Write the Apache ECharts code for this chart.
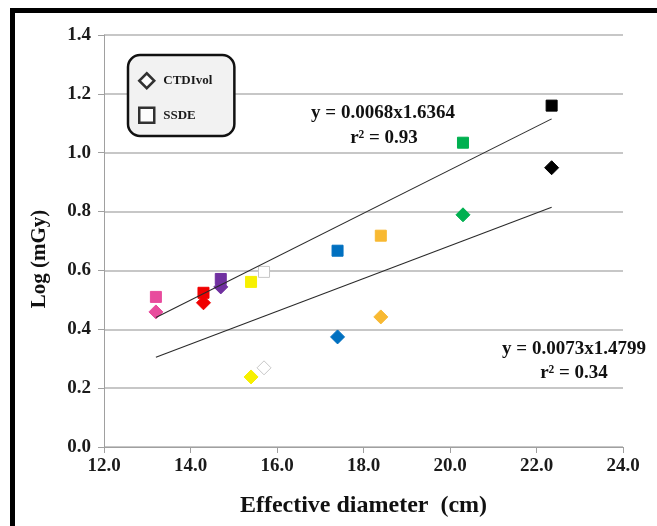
<!DOCTYPE html>
<html>
<head>
<meta charset="utf-8">
<script src="https://cdn.jsdelivr.net/npm/echarts@6/dist/echarts.min.js"></script>
<style>
  html, body { margin: 0; padding: 0; background: #ffffff; }
  #chart { width: 657px; height: 526px; }
</style>
</head>
<body>
<div id="chart"></div>
<script>
// Effective diameter (cm) of each phantom/patient group
const diameters = [13.2, 14.3, 14.7, 15.4, 15.7, 17.4, 18.4, 20.3, 22.35];
// Log dose values (mGy)
const ctdiVol = [0.459, 0.490, 0.544, 0.238, 0.269, 0.374, 0.442, 0.789, 0.949];
const ssde    = [0.510, 0.524, 0.571, 0.561, 0.595, 0.667, 0.718, 1.034, 1.160];
// Marker colour per group
const groupColors = ['#e84c9d', '#f00000', '#7030a0', '#f7f000', '#ffffff',
                     '#0070c0', '#f8b932', '#00b050', '#000000'];
// Power trendlines, end points over the fitted range
const fitX = [13.2, 22.35];
const fitSSDE = [0.44, 1.115];
const fitCTDI = [0.305, 0.815];
// Axis ticks
const xTicks = { min: 12, max: 24, step: 2 };
const yTicks = { min: 0, max: 1.4, step: 0.2 };

const serif = '"Liberation Serif", "Times New Roman", serif';

function points(ys) {
  return diameters.map((x, i) => ({
    value: [x, ys[i]],
    itemStyle: {
      color: groupColors[i],
      opacity: 1,
      borderColor: groupColors[i] === '#ffffff' ? '#c8c8c8' : groupColors[i],
      borderWidth: 1
    }
  }));
}
function fitLine(ys) {
  return fitX.map((x, i) => [x, ys[i]]);
}

const chart = echarts.init(document.getElementById('chart'), null, { renderer: 'canvas' });

chart.setOption({
  backgroundColor: '#ffffff',
  animation: false,
  grid: { left: 104, right: 34, top: 35, bottom: 79, containLabel: false, outerBoundsMode: 'none' },
  legend: {
    orient: 'vertical',
    left: 128,
    top: 55,
    padding: [17, 22, 12, 10],
    itemGap: 17,
    itemWidth: 15,
    itemHeight: 15,
    backgroundColor: '#f2f2f2',
    borderColor: '#111111',
    borderWidth: 2.5,
    borderRadius: 12,
    textStyle: { fontFamily: serif, fontSize: 13, fontWeight: 'bold', color: '#1a1a1a', padding: [0, 0, 0, 4] },
    data: [
      { name: 'CTDIvol', icon: 'diamond', itemStyle: { color: '#ffffff', borderColor: '#000', borderWidth: 2.5 } },
      { name: 'SSDE', icon: 'rect', itemStyle: { color: '#ffffff', borderColor: '#000', borderWidth: 2.5 } }
    ]
  },
  xAxis: {
    type: 'value',
    min: xTicks.min, max: xTicks.max, interval: xTicks.step,
    name: 'Effective diameter  (cm)',
    nameLocation: 'middle',
    nameGap: 47,
    nameTextStyle: { fontFamily: serif, fontSize: 24, fontWeight: 'bold', color: '#111' },
    axisLine: { show: true, lineStyle: { color: '#a0a0a0', width: 1 } },
    axisTick: { show: true, inside: false, length: 6, lineStyle: { color: '#a0a0a0' } },
    axisLabel: {
      margin: 10, fontFamily: serif, fontSize: 19, fontWeight: 'bold', color: '#1a1a1a',
      formatter: v => v.toFixed(1)
    },
    splitLine: { show: false }
  },
  yAxis: {
    type: 'value',
    min: yTicks.min, max: yTicks.max, interval: yTicks.step,
    name: 'Log (mGy)',
    nameLocation: 'middle',
    nameGap: 54,
    nameRotate: 90,
    nameTextStyle: { fontFamily: serif, fontSize: 21, fontWeight: 'bold', color: '#111', padding: [0, 36, 0, 0] },
    axisLine: { show: true, lineStyle: { color: '#a0a0a0', width: 1 } },
    axisTick: { show: true, inside: false, length: 6, lineStyle: { color: '#a0a0a0' } },
    axisLabel: {
      margin: 13, fontFamily: serif, fontSize: 19, fontWeight: 'bold', color: '#1a1a1a',
      formatter: v => v.toFixed(1)
    },
    splitLine: { show: true, lineStyle: { color: '#b4b4b4', width: 1.5 } }
  },
  series: [
    {
      name: 'CTDIvol', type: 'scatter', symbol: 'diamond', symbolSize: 14,
      data: points(ctdiVol), z: 3
    },
    {
      name: 'SSDE', type: 'scatter', symbol: 'rect', symbolSize: 11,
      data: points(ssde), z: 4
    },
    {
      name: 'SSDE fit', type: 'line', data: fitLine(fitSSDE), showSymbol: false, silent: true,
      lineStyle: { color: '#2a2a2a', width: 1.1 }, z: 5
    },
    {
      name: 'CTDIvol fit', type: 'line', data: fitLine(fitCTDI), showSymbol: false, silent: true,
      lineStyle: { color: '#2a2a2a', width: 1.1 }, z: 5
    }
  ],
  graphic: [
    // outer frame
    { type: 'rect', left: 10, top: 8, shape: { width: 647, height: 5 }, style: { fill: '#000' } },
    { type: 'rect', left: 10, top: 8, shape: { width: 5, height: 518 }, style: { fill: '#000' } },
    // trendline equations
    { type: 'text', x: 383, y: 113, style: { text: 'y = 0.0068x1.6364', font: 'bold 19px ' + serif, fill: '#111', align: 'center', verticalAlign: 'middle' } },
    { type: 'text', x: 384, y: 138, style: { text: 'r² = 0.93', font: 'bold 19px ' + serif, fill: '#111', align: 'center', verticalAlign: 'middle' } },
    { type: 'text', x: 574, y: 349, style: { text: 'y = 0.0073x1.4799', font: 'bold 19px ' + serif, fill: '#111', align: 'center', verticalAlign: 'middle' } },
    { type: 'text', x: 574, y: 373, style: { text: 'r² = 0.34', font: 'bold 19px ' + serif, fill: '#111', align: 'center', verticalAlign: 'middle' } }
  ]
});
</script>
</body>
</html>
